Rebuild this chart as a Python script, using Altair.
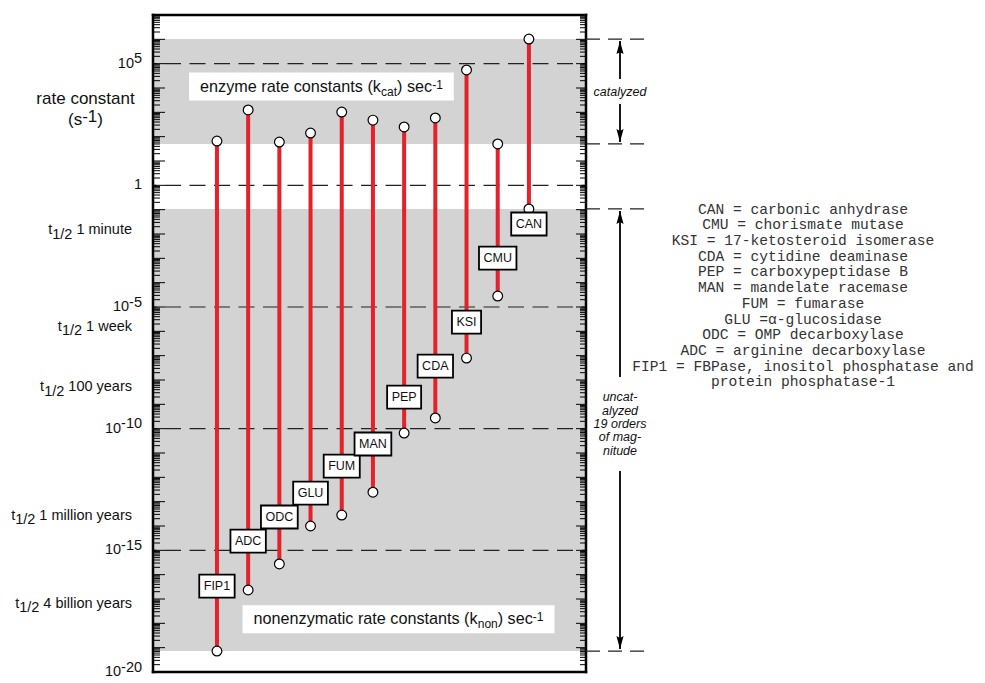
import math

import altair as alt
import pandas as pd

# Catalysed (kcat) and uncatalysed (knon) rate constants, log10 of k in s^-1, left to right
enzymes = ["FIP1", "ADC", "ODC", "GLU", "FUM", "MAN", "PEP", "CDA", "KSI", "CMU", "CAN"]
log_kcat = [1.82, 3.10, 1.78, 2.15, 3.01, 2.68, 2.40, 2.77, 4.74, 1.70, 6.01]
log_knon = [-19.14, -16.63, -15.56, -14.00, -13.55, -12.61, -10.18, -9.56, -7.10, -4.55, -0.97]
# height (log10 k) of each enzyme's name tag on its stem
log_tag = [-16.47, -14.62, -13.63, -12.65, -11.54, -10.63, -8.70, -7.43, -5.62, -2.99, -1.59]

# labelled decades of the rate axis
decades = [5, 0, -5, -10, -15, -20]
# half-life landmarks and where they sit on the rate axis
half_lives = ["1 minute", "1 week", "100 years", "1 million years", "4 billion years"]
half_life_log = [-1.84, -5.82, -8.29, -13.57, -17.19]

abbreviations = [
    "CAN = carbonic anhydrase",
    "CMU = chorismate mutase",
    "KSI = 17-ketosteroid isomerase",
    "CDA = cytidine deaminase",
    "PEP = carboxypeptidase B",
    "MAN = mandelate racemase",
    "FUM = fumarase",
    "GLU =\u03b1-glucosidase",
    "ODC = OMP decarboxylase",
    "ADC = arginine decarboxylase",
    "FIP1 = FBPase, inositol phosphatase and",
    "protein phosphatase-1",
]

# ---- layout -------------------------------------------------------------
W, H = 433, 657
X_MIN, X_MAX = -2.05, 11.83          # enzyme index axis
Y_MIN, Y_MAX = -20.0, 7.0            # log10 k axis
PX_X = W / (X_MAX - X_MIN)
PX_Y = H / (Y_MAX - Y_MIN)

SANS = "Liberation Sans"
MONO = "Liberation Mono"
INK = "#111111"
RED = "#e3222b"
GRAY = "#d3d3d3"


def px_x(p):
    return p / PX_X


def px_y(p):
    return p / PX_Y


# Arial/Liberation Sans advance widths (1/1000 em)
ADV = {" ": 278, "(": 333, ")": 333, "-": 333, "/": 278, ",": 278}
ADV.update({d: 556 for d in "0123456789"})
ADV.update(dict(zip("abcdefghijklmnopqrstuvwxyz",
                    [556, 556, 500, 556, 556, 278, 556, 556, 222, 222, 500, 222, 833,
                     556, 556, 556, 556, 333, 500, 278, 556, 500, 722, 500, 500, 500])))
ADV.update(dict(zip("ABCDEFGHIJKLMNOPQRSTUVWXYZ",
                    [667, 667, 722, 722, 667, 611, 778, 722, 278, 500, 667, 556, 833,
                     722, 778, 667, 778, 722, 667, 611, 722, 667, 944, 667, 667, 611])))


def advance(s, size):
    return sum(ADV.get(c, 556) for c in s) * size / 1000.0


def rich(pieces, x, y, align, size, small, sup=0.0, sub=0.0):
    """Lay out runs of normal, superscript and subscript text side by side."""
    runs = []
    for text, kind in pieces:
        fs = size if kind == "base" else small
        runs.append((text, kind, fs, advance(text, fs)))
    total = sum(r[3] for r in runs)
    pos = {"left": 0.0, "center": -total / 2.0, "right": -total}[align]
    rows = []
    for text, kind, fs, w in runs:
        lead = advance(text[: len(text) - len(text.lstrip())], fs)
        drop = 0.3 * (size - fs) + {"base": 0.0, "sup": -sup, "sub": sub}[kind]
        rows.append({"x": x + px_x(pos + lead), "y": y - px_y(drop),
                     "text": text.strip(), "size": fs})
        pos += w
    return rows, total


xs = alt.Scale(domain=[X_MIN, X_MAX], nice=False, zero=False)
ys = alt.Scale(domain=[Y_MIN, Y_MAX], nice=False, zero=False)


def X(f):
    return alt.X(f"{f}:Q", scale=xs, axis=None)


def Y(f):
    return alt.Y(f"{f}:Q", scale=ys, axis=None)


# ---- tables --------------------------------------------------------------
df = pd.DataFrame({"enzyme": enzymes, "i": list(range(len(enzymes))),
                   "kcat": log_kcat, "knon": log_knon, "tag": log_tag})
TAG_FS = 12.5
df["half"] = [(advance(e, TAG_FS) + 9) / 2 / PX_X for e in enzymes]
df["tx0"] = df["i"] - df["half"]
df["tx1"] = df["i"] + df["half"]
df["ty0"] = df["tag"] - px_y(11.5)
df["ty1"] = df["tag"] + px_y(11.5)

cat_lo, cat_hi = min(log_kcat), max(log_kcat)
unc_lo, unc_hi = min(log_knon), max(log_knon)
bands = pd.DataFrame({"lo": [cat_lo, unc_lo], "hi": [cat_hi, unc_hi],
                      "x0": [X_MIN, X_MIN], "x1": [X_MAX, X_MAX]})

grid = pd.DataFrame({"v": [d for d in decades if d > Y_MIN], "x0": X_MIN, "x1": X_MAX})

ticks = []
for d in range(int(Y_MIN), int(Y_MAX)):
    for m in range(1, 10):
        major = m == 1
        ticks.append({"v": d + math.log10(m),
                      "lx0": X_MIN, "lx1": X_MIN + px_x(12 if major else 7),
                      "rx0": X_MAX - px_x(10 if major else 6), "rx1": X_MAX})
ticks = pd.DataFrame(ticks)

frame = pd.DataFrame([
    {"x": X_MIN, "x2": X_MIN, "y": Y_MIN, "y2": Y_MAX},
    {"x": X_MAX, "x2": X_MAX, "y": Y_MIN, "y2": Y_MAX},
    {"x": X_MIN, "x2": X_MAX, "y": Y_MIN, "y2": Y_MIN},
    {"x": X_MIN, "x2": X_MAX, "y": Y_MAX, "y2": Y_MAX},
])

# text along the left
left_rows = []
for d in decades:
    pieces = [("1", "base")] if d == 0 else [("10", "base"), (str(d), "sup")]
    left_rows += rich(pieces, X_MIN - px_x(11), d, "right", 14.5, 14.5, sup=4.5)[0]
for name, v in zip(half_lives, half_life_log):
    left_rows += rich([("t", "base"), ("1/2", "sub"), (" " + name, "base")],
                      X_MIN - px_x(21), v, "right", 14.5, 14.5, sub=4.5)[0]
RC_X = X_MIN - px_x(67.5)
left_rows += rich([("rate constant", "base")], RC_X, 3.55, "center", 17, 17)[0]
left_rows += rich([("(s", "base"), ("-1", "sup"), (")", "base")], RC_X, 2.68, "center", 17, 17, sup=3)[0]

# captions inside white boxes
BOX_FS, BOX_SMALL = 16.2, 12
boxes, box_rows = [], []
for pieces, bx, by in [
    ([("enzyme rate constants (k", "base"), ("cat", "sub"), (") sec", "base"), ("-1", "sup")], 3.35, 4.06),
    ([("nonenzymatic rate constants (k", "base"), ("non", "sub"), (") sec", "base"), ("-1", "sup")], 5.82, -17.83),
]:
    rows, tw = rich(pieces, bx, by, "center", BOX_FS, BOX_SMALL, sup=3, sub=4)
    box_rows += rows
    boxes.append({"x0": bx - px_x(tw / 2 + 11), "x1": bx + px_x(tw / 2 + 11),
                  "y0": by - px_y(14), "y1": by + px_y(14)})
boxes = pd.DataFrame(boxes)

# range markers on the right
NOTE_X0, NOTE_X1 = X_MAX, X_MAX + px_x(64)
ARROW_X = X_MAX + px_x(34)
edges = pd.DataFrame({"v": [cat_hi, cat_lo, unc_hi, unc_lo], "x0": NOTE_X0, "x1": NOTE_X1})
cat_mid = (cat_lo + cat_hi) / 2
unc_mid = (unc_lo + unc_hi) / 2 + px_y(6)
tip = px_y(2)
shafts = pd.DataFrame([
    {"x": ARROW_X, "a": cat_hi - tip, "b": cat_mid + px_y(12.5)},
    {"x": ARROW_X, "a": cat_mid - px_y(12.5), "b": cat_lo + tip},
    {"x": ARROW_X, "a": unc_hi - tip, "b": unc_mid + px_y(47)},
    {"x": ARROW_X, "a": unc_mid - px_y(47), "b": unc_lo + tip},
])
heads_up = pd.DataFrame({"x": [ARROW_X, ARROW_X], "y": [cat_hi - tip, unc_hi - tip]})
heads_dn = pd.DataFrame({"x": [ARROW_X, ARROW_X], "y": [cat_lo + tip, unc_lo + tip]})
unc_lines = ["uncat-", "alyzed", "19 orders", "of mag-", "nitude"]
notes = pd.DataFrame(
    [{"x": ARROW_X, "y": cat_mid, "text": "catalyzed"}]
    + [{"x": ARROW_X, "y": unc_mid + px_y((2 - k) * 13.3), "text": t} for k, t in enumerate(unc_lines)]
)

legend = pd.DataFrame({"x": X_MAX + px_x(217),
                       "y": [-1.0 - px_y(15.7 * k) for k in range(len(abbreviations))],
                       "text": abbreviations})

# ---- layers --------------------------------------------------------------
band_layer = alt.Chart(bands).mark_rect(color=GRAY).encode(
    x=X("x0"), x2="x1:Q", y=Y("lo"), y2="hi:Q")
box_layer = alt.Chart(boxes).mark_rect(color="white").encode(
    x=X("x0"), x2="x1:Q", y=Y("y0"), y2="y1:Q")
grid_layer = alt.Chart(grid).mark_rule(
    color="#222222", strokeWidth=1.2, strokeDash=[16, 8.5], strokeDashOffset=12.5
).encode(x=X("x0"), x2="x1:Q", y=Y("v"))
stem_layer = alt.Chart(df).mark_rule(color=RED, strokeWidth=4).encode(
    x=X("i"), y=Y("knon"), y2="kcat:Q")
dot_layer = alt.Chart(df).transform_fold(["kcat", "knon"], as_=["end", "v"]).mark_point(
    shape="circle", filled=True, fill="white", stroke="black", strokeWidth=1.2, size=95, opacity=1
).encode(x=X("i"), y=Y("v:Q".split(":")[0]))
tag_box_layer = alt.Chart(df).mark_rect(fill="white", stroke="black", strokeWidth=1.8).encode(
    x=X("tx0"), x2="tx1:Q", y=Y("ty0"), y2="ty1:Q")
tag_text_layer = alt.Chart(df).mark_text(
    font=SANS, fontSize=TAG_FS, color=INK, align="center", baseline="middle"
).encode(x=X("i"), y=Y("tag"), text="enzyme:N")
box_text_layer = alt.Chart(pd.DataFrame(box_rows)).mark_text(
    font=SANS, color=INK, align="left", baseline="middle"
).encode(x=X("x"), y=Y("y"), text="text:N", size=alt.Size("size:Q", scale=None))
tick_left = alt.Chart(ticks).mark_rule(color="black", strokeWidth=1).encode(
    x=X("lx0"), x2="lx1:Q", y=Y("v"))
tick_right = alt.Chart(ticks).mark_rule(color="black", strokeWidth=1).encode(
    x=X("rx0"), x2="rx1:Q", y=Y("v"))
frame_layer = alt.Chart(frame).mark_rule(color="black", strokeWidth=2.5, strokeCap="square").encode(
    x=X("x"), x2="x2:Q", y=Y("y"), y2="y2:Q")
left_layer = alt.Chart(pd.DataFrame(left_rows)).mark_text(
    font=SANS, color=INK, align="left", baseline="middle"
).encode(x=X("x"), y=Y("y"), text="text:N", size=alt.Size("size:Q", scale=None))
edge_layer = alt.Chart(edges).mark_rule(color="#222222", strokeWidth=1.2, strokeDash=[14, 8]).encode(
    x=X("x0"), x2="x1:Q", y=Y("v"))
shaft_layer = alt.Chart(shafts).mark_rule(color="black", strokeWidth=1.8).encode(
    x=X("x"), y=Y("a"), y2="b:Q")
up_layer = alt.Chart(heads_up).mark_point(
    shape="M0,0L0.55,2L0,1.7L-0.55,2Z", filled=True, color="black", size=169, opacity=1
).encode(x=X("x"), y=Y("y"))
down_layer = alt.Chart(heads_dn).mark_point(
    shape="M0,0L0.55,-2L0,-1.7L-0.55,-2Z", filled=True, color="black", size=169, opacity=1
).encode(x=X("x"), y=Y("y"))
note_layer = alt.Chart(notes).mark_text(
    font=SANS, fontSize=12.5, fontStyle="italic", color=INK, align="center", baseline="middle"
).encode(x=X("x"), y=Y("y"), text="text:N")
legend_layer = alt.Chart(legend).mark_text(
    font=MONO, fontSize=14.6, color="#333333", align="center", baseline="middle"
).encode(x=X("x"), y=Y("y"), text="text:N")

chart = alt.layer(
    band_layer, box_layer, grid_layer, stem_layer, dot_layer,
    tag_box_layer, tag_text_layer, box_text_layer,
    tick_left, tick_right, frame_layer, left_layer,
    edge_layer, shaft_layer, up_layer, down_layer, note_layer, legend_layer,
).properties(
    width=W, height=H,
    autosize=alt.AutoSizeParams(type="none"),
    padding={"left": 153, "top": 15, "right": 985 - 153 - W, "bottom": 683 - 15 - H},
).configure_view(stroke=None)

chart.save("out.html", embed_options={"renderer": "svg", "actions": False})
